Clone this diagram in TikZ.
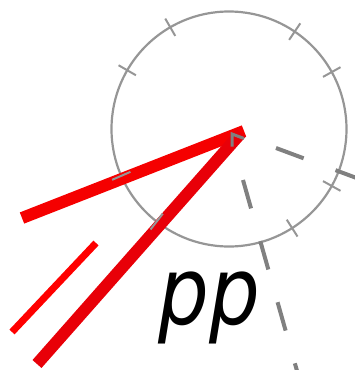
\documentclass[tikz,border=0pt]{standalone}
\usepackage{fontspec}
\newfontfamily\schrift{DejaVu Sans}
\usetikzlibrary{calc}
\definecolor{c1}{RGB}{245,0,0}
\definecolor{c2}{RGB}{232,0,8}
\definecolor{c3}{RGB}{255,0,0}
\definecolor{grau}{RGB}{150,150,150}
\definecolor{dunkelgrau}{RGB}{128,128,128}

\begin{document}
\begin{tikzpicture}[
  x=1pt, y=-1pt,
  strich/.style={line width=12pt, line cap=butt},
  duenn/.style={line width=7pt, line cap=butt, c3},
  kreis/.style={grau, line width=2.2pt},
  marke/.style={grau, line width=2pt},
  strahl/.style={dunkelgrau, line width=4pt, dash pattern=on 29.5pt off 34pt}
]
\useasboundingbox (0,0) rectangle (354,370);

% ---------- Kreis mit Marken -------------------------------------
\coordinate (m) at (229,129);
\draw[kreis] (m) circle[radius=117.5pt];
\foreach \w in {-120,-150,-56,-29,156.5,128,57.5,29}
  \draw[marke] ($(m)+(\w:107.5)$) -- ($(m)+(\w:127.5)$);

% ---------- gestrichelte Strahlen --------------------------------
\coordinate (a1) at (276,148);
\coordinate (a2) at (370,183);
\coordinate (b1) at (243,180);
\coordinate (b2) at (301,385);
\draw[strahl] (a1) -- (a2);
\draw[strahl] (b1) -- (b2);

% ---------- rote Linien ------------------------------------------
\coordinate (spitze) at (244,131);
\coordinate (l1) at (22,218);
\coordinate (l2) at (37,364);
\draw[strich, c1] (l1) -- (spitze);
\draw[strich, c2] (l2) -- (241,133);
\coordinate (d1) at (12,332);
\coordinate (d2) at (96,243);
\draw[duenn] (d1) -- (d2);
\foreach \w in {156.5,128}
  \draw[marke] ($(m)+(\w:107.5)$) -- ($(m)+(\w:127.5)$);

% ---------- Winkelzeichen ----------------------------------------
\draw[dunkelgrau, line width=3pt] (232,146.5) -- (232,134) -- (244,138.5);

% ---------- Beschriftung -----------------------------------------
\node[anchor=base, inner sep=0pt, font=\schrift\fontsize{94}{94}\selectfont\itshape]
  (pp) at (209,324) {\scalebox{0.85}[1]{pp}};

\end{tikzpicture}
\end{document}
